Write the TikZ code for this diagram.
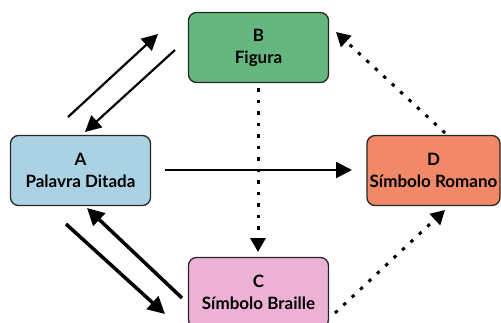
\documentclass[tikz,border=0pt]{standalone}
\usepackage{fontspec}
\setmainfont{Lato}
\usetikzlibrary{arrows.meta}
\definecolor{ablue}{RGB}{171,210,227}
\definecolor{bgreen}{RGB}{102,183,127}
\definecolor{cpink}{RGB}{236,177,212}
\definecolor{dorange}{RGB}{241,136,104}

\begin{document}
\begin{tikzpicture}[x=1pt, y=-1pt,
    box/.style={draw=black!85, line width=1.3pt, rounded corners=8pt, minimum width=140pt,
        minimum height=70pt, inner sep=1pt, align=center, font=\fontsize{17}{22}\selectfont\bfseries},
    link/.style={line width=2.2pt, -{Triangle[length=16pt,width=16pt]}},
    heavy/.style={line width=3.5pt, -{Triangle[length=17pt,width=17pt]}},
    dots/.style={line width=3pt, dash pattern=on 3.5pt off 8pt, -{Triangle[length=14pt,width=15pt]}}]
    \useasboundingbox (0,0) rectangle (501,322);
    \node[box, fill=ablue] (A) at (80.5,170.5) {A\\Palavra Ditada};
    \node[box, fill=bgreen] (B) at (258.5,47.5) {B\\Figura};
    \node[box, fill=cpink] (C) at (258.5,292.5) {C\\Símbolo Braille};
    \node[box, fill=dorange, minimum width=133pt] (D) at (433.5,170.5) {D\\Símbolo Romano};
    \coordinate (ab1) at (68,117);
    \coordinate (ab2) at (158,34);
    \coordinate (ba1) at (175,50);
    \coordinate (ba2) at (85,132);
    \coordinate (ac1) at (66,224);
    \coordinate (ac2) at (165,314);
    \coordinate (ca1) at (182,298);
    \coordinate (ca2) at (87,208);
    \coordinate (ad1) at (165,170);
    \coordinate (ad2) at (352,170);
    \coordinate (bc1) at (258,88);
    \coordinate (bc2) at (258,252);
    \coordinate (db1) at (445,133);
    \coordinate (db2) at (336,32);
    \coordinate (cd1) at (335,313);
    \coordinate (cd2) at (445,210);
    \draw[link] (ab1) -- (ab2);
    \draw[link] (ba1) -- (ba2);
    \draw[heavy] (ac1) -- (ac2);
    \draw[heavy] (ca1) -- (ca2);
    \draw[link] (ad1) -- (ad2);
    \draw[dots] (bc1) -- (bc2);
    \draw[dots] (db1) -- (db2);
    \draw[dots] (cd1) -- (cd2);
\end{tikzpicture}
\end{document}
